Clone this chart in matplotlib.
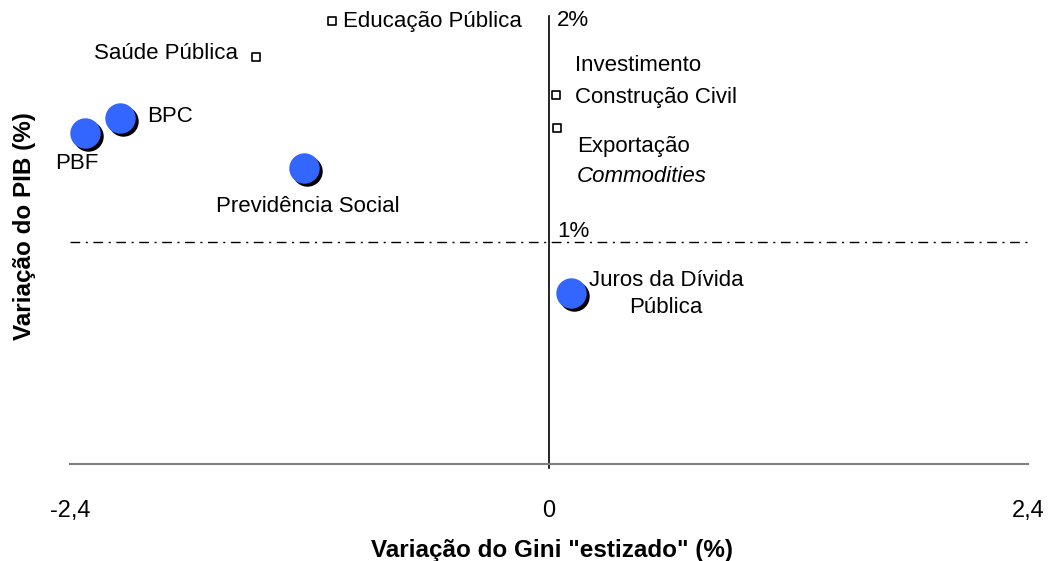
import matplotlib
matplotlib.use('Agg')
import matplotlib.pyplot as plt
from matplotlib.transforms import offset_copy

plt.rcParams['font.family'] = ['Liberation Sans', 'DejaVu Sans']

# Programas com círculo (x = variação do Gini, y = variação do PIB)
circ_names = ['PBF', 'BPC', 'Previdência Social', 'Juros da Dívida\nPública']
circ_x = [-2.325, -2.149, -1.227, 0.110]
circ_y = [1.491, 1.559, 1.333, 0.770]

# Itens com quadrado vazado
sq_names = ['Educação Pública', 'Saúde Pública', 'Construção Civil', 'Exportação']
sq_x = [-1.087, -1.468, 0.035, 0.040]
sq_y = [1.995, 1.833, 1.662, 1.514]

xticks = [-2.4, 0, 2.4]
xtick_labels = ['-2,4', '0', '2,4']

fig = plt.figure(figsize=(10.49, 5.61), dpi=100)
ax = fig.add_axes([70 / 1049, 97 / 561, 958 / 1049, 444 / 561])
ax.set_xlim(-2.4, 2.4)
ax.set_ylim(0, 2.0)

for s in ['top', 'right', 'left']:
    ax.spines[s].set_visible(False)
ax.spines['bottom'].set_color('#808080')
ax.spines['bottom'].set_linewidth(1.5)
ax.set_yticks([])
ax.set_xticks(xticks)
ax.set_xticklabels(xtick_labels, fontsize=17)
ax.tick_params(axis='x', length=0, pad=26)

# eixo vertical em x = 0 e linha de 1%
ax.plot([0, 0], [-0.02, 2.02], color='black', lw=1.2, clip_on=False, zorder=2)
ax.plot([-2.4, 2.4], [1, 1], color='black', lw=1.0, linestyle=(0, (7, 4, 1.5, 4)), zorder=1)
ax.text(0.04, 1.0, '1%', fontsize=16, va='bottom', ha='left')
ax.text(0.04, 2.0, '2%', fontsize=16, va='center', ha='left')

# círculos com sombra
shadow = offset_copy(ax.transData, fig=fig, x=3, y=-3, units='dots')
ax.scatter(circ_x, circ_y, s=480, color='black', transform=shadow, zorder=3, linewidths=0)
ax.scatter(circ_x, circ_y, s=480, color='#3366FF', zorder=4, linewidths=0)

ax.scatter(sq_x, sq_y, s=36, marker='s', facecolor='white', edgecolor='black',
           linewidths=1.2, zorder=4, clip_on=False)

fs = 16
circ_off = [(-8, -31, 'center'), (27, 1, 'left'), (4, -38, 'center'), (95, -1, 'center')]
for name, x, y, (dx, dy, ha) in zip(circ_names, circ_x, circ_y, circ_off):
    ax.annotate(name, (x, y), xytext=(dx, dy), textcoords='offset pixels',
                ha=ha, va='center', fontsize=fs, multialignment='center', linespacing=1.4)

sq_off = [(11, 0, 'left'), (-18, 4, 'right'), (19, -2, 'left'), (20, -19, 'left')]
for name, x, y, (dx, dy, ha) in zip(sq_names, sq_x, sq_y, sq_off):
    ax.annotate(name, (x, y), xytext=(dx, dy), textcoords='offset pixels',
                ha=ha, va='center', fontsize=fs)
ax.annotate('Investimento', (sq_x[2], sq_y[2]), xytext=(19, 30), textcoords='offset pixels',
            ha='left', va='center', fontsize=fs)
ax.annotate('Commodities', (sq_x[3], sq_y[3]), xytext=(20, -49), textcoords='offset pixels',
            ha='left', va='center', fontsize=fs, style='italic')

fig.text(552 / 1049, 11 / 561, 'Variação do Gini "estizado" (%)', fontsize=17.5,
         fontweight='bold', ha='center', va='center')
fig.text(25 / 1049, 335 / 561, 'Variação do PIB (%)', rotation=90, fontsize=17.5,
         fontweight='bold', ha='center', va='center')

fig.savefig('out.png', dpi=100)
